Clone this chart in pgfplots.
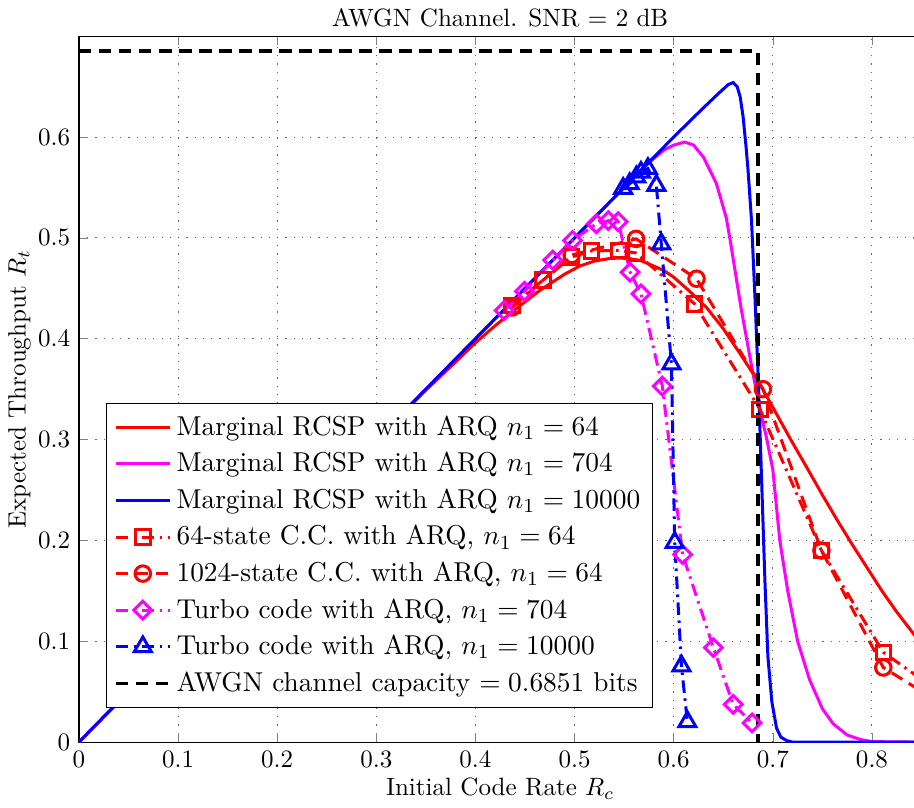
\documentclass[border=0pt]{standalone}
\usepackage{pgfplots}
\pgfplotsset{compat=1.18}
\definecolor{mmag}{rgb}{1,0,1}
\begin{document}
\begin{tikzpicture}
\begin{axis}[
  scale only axis, width=336.6pt, height=282pt,
  xmin=0, xmax=0.85, ymin=0, ymax=0.7,
  xtick={0,0.1,0.2,0.3,0.4,0.5,0.6,0.7,0.8},
  ytick={0,0.1,0.2,0.3,0.4,0.5,0.6},
  xticklabels={0,0.1,0.2,0.3,0.4,0.5,0.6,0.7,0.8},
  yticklabels={0,0.1,0.2,0.3,0.4,0.5,0.6},
  grid=major,
  grid style={black!60, line width=0.4pt, dash pattern=on 0.5pt off 2.8pt},
  tick align=inside, major tick length=3.5pt,
  axis line style={line width=0.5pt},
  title={AWGN Channel. SNR $=$ 2 dB},
  title style={yshift=-5.8pt},
  xlabel={Initial Code Rate $R_c$},
  xlabel shift=-3.2pt,
  ylabel={Expected Throughput $R_t$},
  ylabel shift=-4pt,
  legend style={at={(0.032,0.481)}, anchor=north west, draw=black, row sep=1.3pt, inner sep=3pt, line width=0.5pt, font=\fontsize{10.9}{13}\selectfont},
  legend cell align=left,
  legend image code/.code={\draw[mark repeat=2,mark phase=2] plot coordinates {(0cm,0cm) (0.38cm,0cm) (0.76cm,0cm)};},
]
\addplot[red, line width=1.2pt] coordinates {
(0,0) (0.30,0.30) (0.35,0.349) (0.38,0.377) (0.40,0.396) (0.42,0.413) (0.44,0.429)
(0.465,0.448) (0.49,0.464) (0.505,0.472) (0.52,0.477) (0.535,0.4795) (0.545,0.480)
(0.555,0.4795) (0.566,0.4777) (0.58,0.472) (0.59,0.4677) (0.60,0.461) (0.615,0.448)
(0.633,0.431) (0.65,0.41) (0.667,0.385) (0.687,0.355) (0.70,0.332) (0.718,0.300)
(0.735,0.271) (0.75,0.245) (0.765,0.220) (0.78,0.196) (0.795,0.173) (0.81,0.150)
(0.825,0.129) (0.843,0.106) (0.85,0.098)};
\addplot[mmag, line width=1.2pt] coordinates {
(0,0) (0.57,0.57) (0.579,0.578) (0.59,0.587) (0.60,0.592) (0.611,0.595) (0.62,0.592)
(0.63,0.580) (0.643,0.554) (0.653,0.520) (0.657,0.4975) (0.668,0.43) (0.68,0.365)
(0.687,0.33) (0.694,0.30) (0.70,0.27) (0.707,0.20) (0.715,0.15) (0.725,0.10)
(0.737,0.062) (0.75,0.033) (0.761,0.018) (0.775,0.007) (0.788,0.0027) (0.80,0.0005) (0.85,0)};
\addplot[blue, line width=1.2pt] coordinates {
(0,0) (0.60,0.60) (0.63,0.629) (0.645,0.643) (0.655,0.652) (0.66,0.654) (0.664,0.650)
(0.667,0.640) (0.670,0.620) (0.673,0.59) (0.675,0.567) (0.6785,0.517) (0.682,0.44)
(0.6855,0.355) (0.689,0.25) (0.692,0.16) (0.695,0.085) (0.699,0.04) (0.7037,0.014)
(0.708,0.005) (0.714,0.0015) (0.72,0) (0.85,0)};
\addplot[red, line width=1.2pt, dash pattern=on 5pt off 2.2pt on 1pt off 2.2pt,
  mark=square, mark size=2.9pt, mark options={solid}] coordinates {
(0.437,0.433) (0.468,0.458) (0.497,0.481) (0.517,0.487) (0.545,0.4876) (0.562,0.485)
(0.621,0.4346) (0.687,0.330) (0.749,0.19) (0.8114,0.089) (0.875,0.045)};
\addplot[red, line width=1.2pt, dash pattern=on 5pt off 3pt,
  mark=o, mark size=3.1pt, mark options={solid}] coordinates {
(0.437,0.431) (0.497,0.483) (0.562,0.499) (0.623,0.4595) (0.690,0.350) (0.749,0.19)
(0.8114,0.074) (0.875,0.035)};
\addplot[mmag, line width=1.2pt, dash pattern=on 5pt off 2.2pt on 1pt off 2.2pt,
  mark=square, mark size=2.5pt, mark options={solid, rotate=45}] coordinates {
(0.429,0.428) (0.4495,0.447) (0.478,0.478) (0.498,0.4975) (0.522,0.514) (0.534,0.517)
(0.544,0.516) (0.556,0.466) (0.567,0.4445) (0.5885,0.353) (0.609,0.186) (0.64,0.0937)
(0.66,0.0374) (0.679,0.019)};
\addplot[blue, line width=1.2pt, dash pattern=on 5pt off 2.2pt on 1pt off 2.2pt,
  mark=triangle, mark size=3.9pt, mark options={solid}] coordinates {
(0.549,0.549) (0.5556,0.5537) (0.5623,0.5604) (0.567,0.565) (0.574,0.5687) (0.5825,0.552)
(0.5875,0.494) (0.5977,0.375) (0.601,0.198) (0.6078,0.0755) (0.6138,0.0202)};
\addplot[black, line width=1.4pt, dash pattern=on 5pt off 3pt] coordinates {
(0,0.6851) (0.6851,0.6851) (0.6851,0)};
\legend{Marginal RCSP with ARQ $n_1 = 64$,
Marginal RCSP with ARQ $n_1 = 704$,
Marginal RCSP with ARQ $n_1 = 10000$,
64-state C.C. with ARQ{,} $n_1 = 64$,
1024-state C.C. with ARQ{,} $n_1 = 64$,
Turbo code with ARQ{,} $n_1 = 704$,
Turbo code with ARQ{,} $n_1 = 10000$,
AWGN channel capacity $= 0.6851$ bits}
\coordinate (cutR) at (axis cs:0.8424,0);
\end{axis}
\pgfresetboundingbox
\path[use as bounding box] (current axis.outer south west) rectangle (cutR |- current axis.outer north east);
\end{tikzpicture}
\end{document}
